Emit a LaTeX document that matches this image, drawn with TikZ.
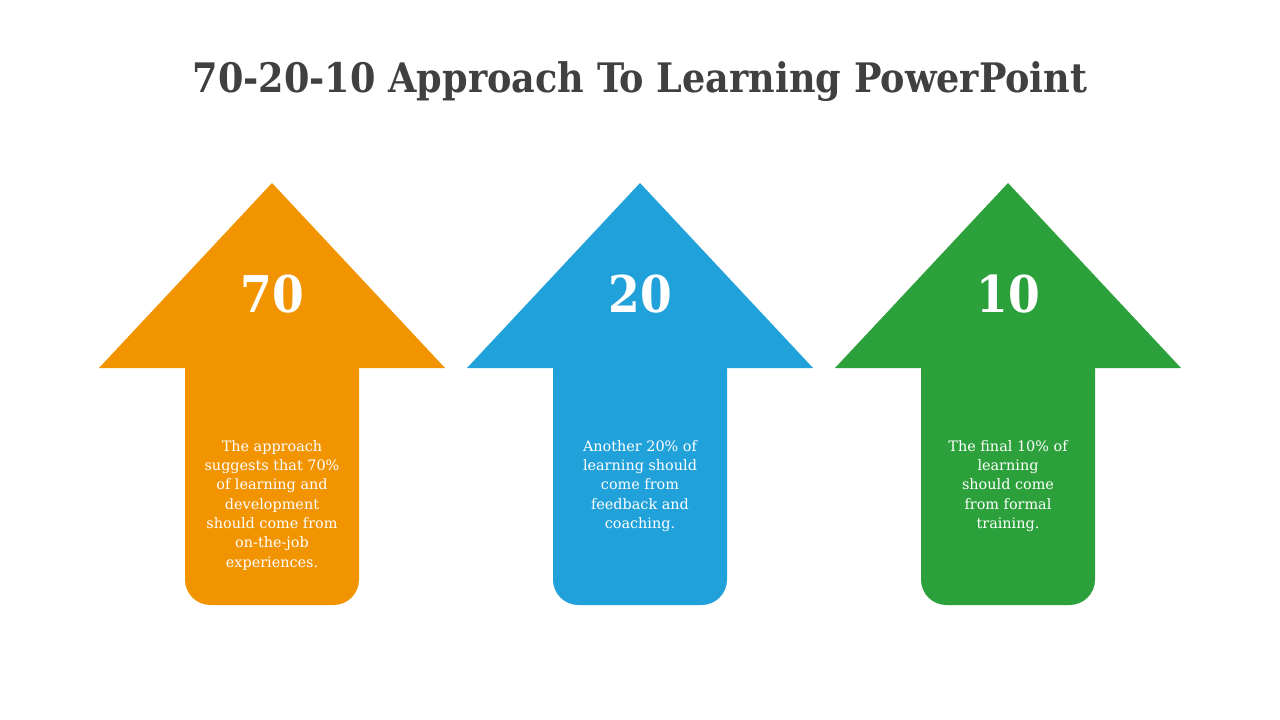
\documentclass[tikz,border=0pt]{standalone}
\usepackage{fontspec}
\setmainfont{DejaVu Serif}
\newfontfamily\condensedfont{DejaVu Serif Condensed}
\definecolor{titleGray}{HTML}{404040}
\definecolor{orangeArrow}{HTML}{F29400}
\definecolor{blueArrow}{HTML}{21A1DA}
\definecolor{greenArrow}{HTML}{2CA13B}
\begin{document}
\begin{tikzpicture}
[x=0.75pt,y=-0.75pt,
  titleDecorate/.style={font=\condensedfont\bfseries\fontsize{30.5}{36}\selectfont,text=titleGray},
  numberDecorate/.style={font=\condensedfont\bfseries\fontsize{38}{44}\selectfont,text=white},
  textDecorate/.style={font=\fontsize{10.8}{14.5}\selectfont,text=white,align=center,anchor=north,inner sep=0pt}]
\useasboundingbox[fill=white] (0,0) rectangle (1280,720);
\node (title) at (640,82) [titleDecorate] {70-20-10 Approach To Learning PowerPoint};
%% arrows with number and text
\foreach \name/\cx/\col/\num/\txt in {
  seventy/272/orangeArrow/70/{The approach\\suggests that 70\%\\of learning and\\development\\should come from\\on-the-job\\experiences.},
  twenty/640/blueArrow/20/{Another 20\% of\\learning should\\come from\\feedback and\\coaching.},
  ten/1008/greenArrow/10/{The final 10\% of\\learning\\should come\\from formal\\training.}}
{
  \fill[\col] (\cx,183) -- (\cx+173,368) -- (\cx+87,368)
    [rounded corners=19pt] -- (\cx+87,605) -- (\cx-87,605)
    [sharp corners] -- (\cx-87,368) -- (\cx-173,368) -- cycle;
  \node (num-\name) at (\cx,294) [numberDecorate] {\num};
  \node (desc-\name) at (\cx,440) [textDecorate] {\txt};
}
\end{tikzpicture}
\end{document}
